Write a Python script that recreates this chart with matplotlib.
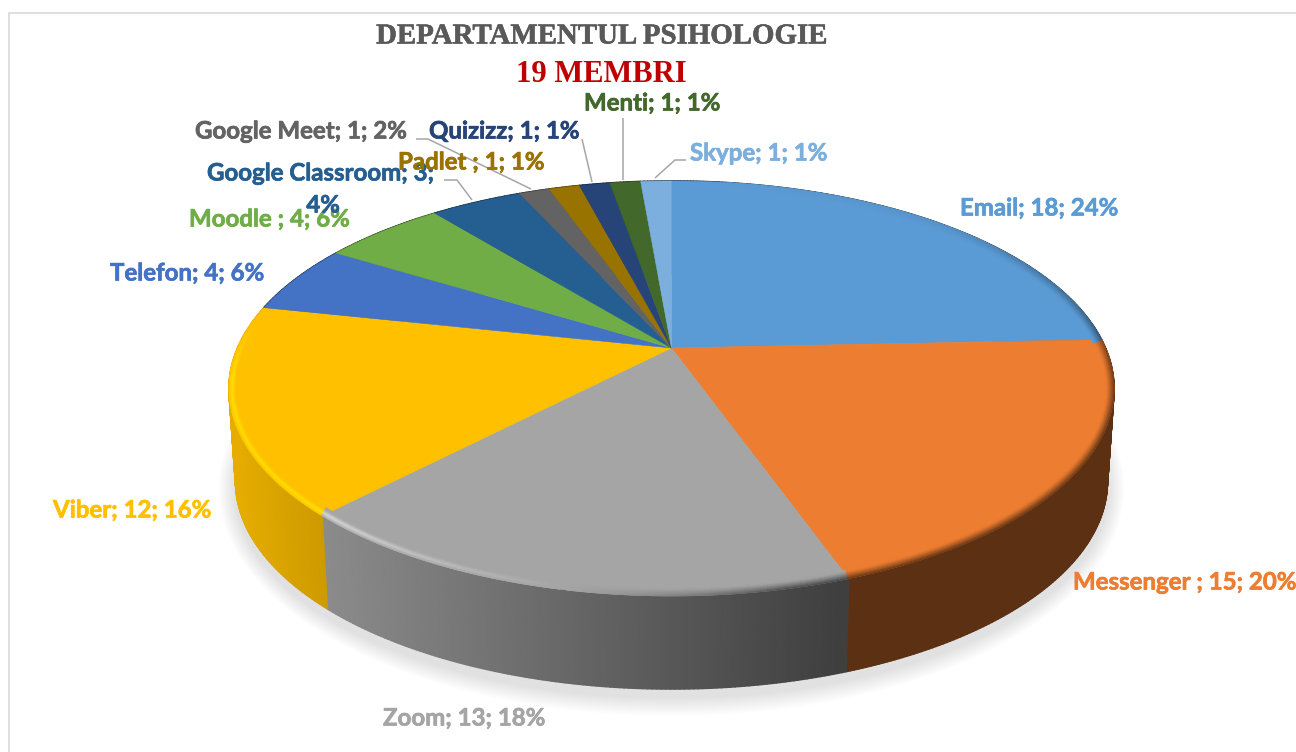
import numpy as np
import matplotlib
matplotlib.use("Agg")
import matplotlib.pyplot as plt
import matplotlib.patheffects as pe
from matplotlib.collections import PolyCollection
from matplotlib.colors import to_rgb
from matplotlib.patches import Polygon, Rectangle

categories = ["Email", "Messenger ", "Zoom", "Viber", "Telefon", "Moodle ",
              "Google Classroom", "Google Meet", "Padlet ", "Quizizz", "Menti", "Skype"]
values = [18, 15, 13, 12, 4, 4, 3, 1, 1, 1, 1, 1]
percents = [24, 20, 18, 16, 6, 6, 4, 2, 1, 1, 1, 1]
colors = ["#5B9BD5", "#ED7D31", "#A5A5A5", "#FFC000", "#4472C4", "#70AD47",
          "#255E91", "#636363", "#997300", "#264478", "#43682B", "#7CAFDD"]

# label layout (left x, centre y) in figure pixels
label_pos = [(960, 208), (1073, 582), (383, 718), (53, 510), (110, 273), (189, 219),
             (207, 173), (195, 131), (398, 162), (429, 131), (584, 103), (690, 153)]
leaders = [[(655, 178), (675, 160), (686, 160)],
           [(622.7, 118), (622.7, 180)],
           [(582, 139), (592, 182)],
           [(416, 139), (428, 139), (531, 189)],
           [(444, 180), (457, 180), (472, 200)]]

W, H = 1296, 752
fig = plt.figure(figsize=(W / 100, H / 100), dpi=100)
ax = fig.add_axes([0, 0, 1, 1])
ax.set_xlim(0, W)
ax.set_ylim(H, 0)
ax.axis("off")

# projection of the pie disc (perspective)
CX, CY, A, B, K = 671.5, 348.0, 434.0, 199.6, 0.195
DEPTH, SHRINK = 93.0, 0.985


def rim(theta):
    x, y = np.sin(theta), np.cos(theta)
    w = 1 + K * y
    return CX + A * x / w, CY - B * y / w


def rim_bottom(theta):
    X, Y = rim(theta)
    return CX + (X - CX) * SHRINK, Y + DEPTH


vals = np.array(values, float)
cum = np.concatenate([[0], np.cumsum(vals)]) / vals.sum() * 2 * np.pi

# frame
ax.add_patch(Rectangle((9, 12.5), W + 50, H + 50, fc="white", ec="#D9D9D9", lw=1.2, zorder=0))

# soft shadow
t = np.linspace(0, 2 * np.pi, 721)
bx, by = rim_bottom(t)
ecx, ecy = CX, CY + DEPTH + 47
for d in np.arange(20, 0, -2.0):
    sx = ecx + (bx - ecx) * (1 + d / 520)
    sy = ecy + 8 + (by - ecy) * (1 + d / 215)
    ax.fill(sx, sy, color="#9a9a9a", alpha=0.028, lw=0, zorder=1)

# side walls: solid strips, painted in angular order
polys, cols = [], []
for i, c in enumerate(colors):
    n = max(4, int((cum[i + 1] - cum[i]) / (2 * np.pi) * 720))
    th = np.linspace(cum[i], cum[i + 1], n + 1)
    tx, ty = rim(th)
    bx2, by2 = rim_bottom(th)
    base = np.array(to_rgb(c))
    under = np.column_stack([np.r_[tx, bx2[::-1]], np.r_[ty, by2[::-1]]])
    ax.add_patch(Polygon(under, closed=True, fc=tuple(base * 0.39), ec="none", zorder=2))
    for j in range(n):
        polys.append([(tx[j], ty[j]), (tx[j + 1], ty[j + 1]), (bx2[j + 1], by2[j + 1]), (bx2[j], by2[j])])
        X = tx[j]
        if i == 3:
            s = np.interp(X, [235, 327], [0.9, 0.8])
        elif i == 2:
            s = np.interp(X, [327, 843], [0.84, 0.38])
        else:
            s = 0.39
        cols.append(tuple(base * s))
ax.add_collection(PolyCollection(polys, facecolors=cols, edgecolors=cols, linewidths=1.2, zorder=2.5))

# top faces
for i, c in enumerate(colors):
    n = max(6, int((cum[i + 1] - cum[i]) / (2 * np.pi) * 720))
    th = np.linspace(cum[i], cum[i + 1], n + 1)
    tx, ty = rim(th)
    pts = np.column_stack([np.r_[CX, tx], np.r_[CY, ty]])
    ax.add_patch(Polygon(pts, closed=True, fc=c, ec=c, lw=0.4, zorder=3))

# bevel along the rim
tt = np.linspace(0, 2 * np.pi, 1441)
rx, ry = rim(tt)
tgx, tgy = np.gradient(rx), np.gradient(ry)
norm = np.hypot(tgx, tgy)
nx, ny = -tgy / norm, tgx / norm
sign = np.sign((CX - rx) * nx + (CY + 47 - ry) * ny)
nx, ny = nx * sign, ny * sign
offs = np.arange(0, 9.01, 1.0)
deg = np.degrees(tt)
lit = np.interp(deg, [0, 45, 80, 95, 150, 168, 195, 222, 262, 279, 360],
                [0, -0.1, -0.6, -0.9, -1, -1, 0.15, 1, 1, 0, 0])
polys, cols = [], []
for k in range(len(tt) - 1):
    if abs(lit[k]) < 0.02:
        continue
    idx = min(np.searchsorted(cum, tt[k], side="right") - 1, len(colors) - 1)
    base = np.array(to_rgb(colors[idx]))
    if idx == 3:
        hi = np.array(to_rgb("#FFDD00"))
        gain = 1.0
    else:
        hi = np.array([1.0, 1.0, 1.0])
        gain = 0.5
    dark = base * (0.39 if idx != 2 else np.interp(rx[k], [327, 843], [0.84, 0.38]))
    for m in range(len(offs) - 1):
        d = offs[m] + 0.5
        if lit[k] > 0:
            wgt = lit[k] * gain * np.exp(-((d - 3.5) / 2.4) ** 2)
            col = base + (hi - base) * wgt
        else:
            wgt = -lit[k] * 0.95 * max(0, 1 - d / 8) ** 1.2
            col = base + (dark - base) * wgt
        polys.append([(rx[k] + nx[k] * offs[m], ry[k] + ny[k] * offs[m]),
                      (rx[k + 1] + nx[k + 1] * offs[m], ry[k + 1] + ny[k + 1] * offs[m]),
                      (rx[k + 1] + nx[k + 1] * offs[m + 1], ry[k + 1] + ny[k + 1] * offs[m + 1]),
                      (rx[k] + nx[k] * offs[m + 1], ry[k] + ny[k] * offs[m + 1])])
        cols.append(tuple(np.clip(col, 0, 1)))
ax.add_collection(PolyCollection(polys, facecolors=cols, edgecolors=cols, linewidths=0.5, zorder=4))

# leader lines
for pts in leaders:
    p = np.array(pts)
    ax.plot(p[:, 0], p[:, 1], color="#A6A6A6", lw=1.1, zorder=5, solid_capstyle="butt")

# labels
fs = 17.3


def label(x, y, txt, c, z=6, ha="left"):
    ax.text(x, y, txt, color=c, fontsize=fs, fontweight="bold", family="Lato", ha=ha, va="center", zorder=z,
            path_effects=[pe.withStroke(linewidth=0.5, foreground=c)])


for i, name in enumerate(categories):
    x, y = label_pos[i]
    if name == "Google Classroom":
        label(x, y, f"{name}; {values[i]};", colors[i])
        label(323, 205, f"{percents[i]}%", colors[i], z=7, ha="center")
    else:
        label(x, y, f"{name}; {values[i]}; {percents[i]}%", colors[i])

ax.text(601.5, 36, "DEPARTAMENTUL PSIHOLOGIE", color="#595959", fontsize=20.8, fontweight="bold",
        family="Liberation Serif", ha="center", va="center", zorder=6,
        path_effects=[pe.withStroke(linewidth=0.4, foreground="#595959")])
ax.text(601, 74.5, "19 MEMBRI", color="#C00000", fontsize=22, fontweight="bold",
        family="Liberation Serif", ha="center", va="center", zorder=6)

fig.savefig("out.png", dpi=100)
